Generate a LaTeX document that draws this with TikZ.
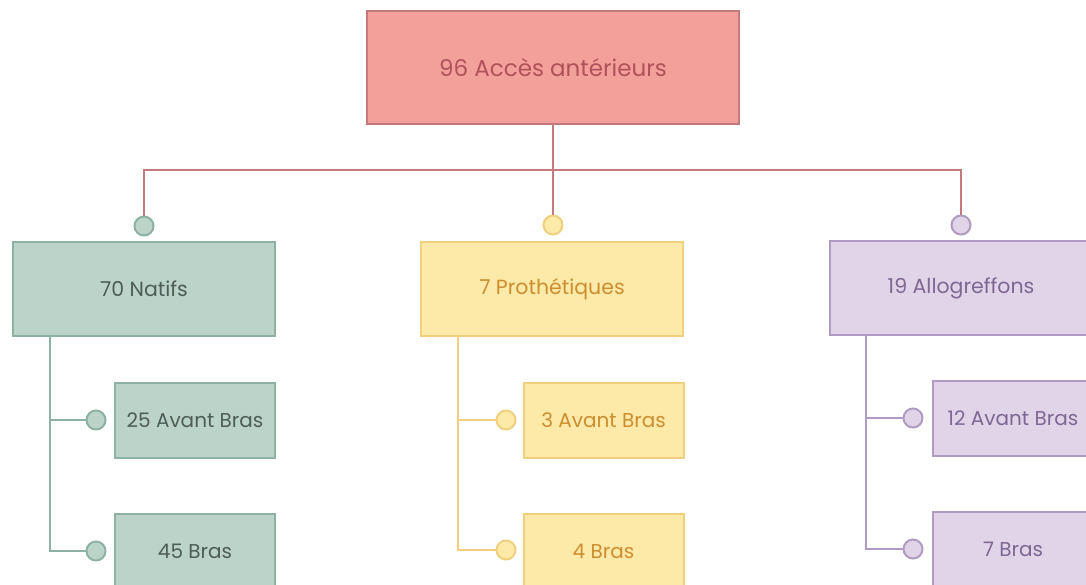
\documentclass[tikz,border=0pt]{standalone}
\usepackage{fontspec}
\setmainfont{Poppins}
\definecolor{rootfill}{HTML}{F4A09A}
\definecolor{rootdraw}{HTML}{C47A7C}
\definecolor{roottext}{HTML}{B0525A}
\definecolor{gfill}{HTML}{BCD3CA}
\definecolor{gdraw}{HTML}{8DB2A4}
\definecolor{gtext}{HTML}{4E5D57}
\definecolor{yfill}{HTML}{FDE9A8}
\definecolor{ydraw}{HTML}{F0D07F}
\definecolor{ytext}{HTML}{CC8E30}
\definecolor{pfill}{HTML}{E1D4E8}
\definecolor{pdraw}{HTML}{B09CC2}
\definecolor{ptext}{HTML}{7E6792}
\tikzset{
  box/.style={draw, line width=2pt, inner sep=0pt, anchor=center},
  rootbox/.style={box, fill=rootfill, draw=rootdraw, text=roottext, minimum width=372pt, minimum height=113pt, font=\fontsize{23}{26}\selectfont},
  midbox/.style={box, minimum width=262pt, minimum height=94pt, font=\fontsize{20.5}{24}\selectfont},
  leafbox/.style={box, minimum width=160pt, minimum height=75pt, font=\fontsize{20}{24}\selectfont},
  dot/.style={circle, draw, line width=2pt, inner sep=0pt, minimum size=19pt},
  link/.style={line width=2.5pt},
  gstyle/.style={fill=gfill, draw=gdraw, text=gtext},
  ystyle/.style={fill=yfill, draw=ydraw, text=ytext},
  pstyle/.style={fill=pfill, draw=pdraw, text=ptext},
}
\begin{document}
\begin{tikzpicture}[x=1pt,y=-1pt]
\clip (0,0) rectangle (1086,584);
\fill[white] (0,0) rectangle (1086,584);
% root
\node[rootbox] (root) at (553,67.5) {96 Accès antérieurs};
\coordinate (bus) at (553,170);
% level 2
\node[midbox, gstyle] (nat) at (144,289) {70 Natifs};
\node[midbox, ystyle] (pro) at (552,289) {7 Prothétiques};
\node[midbox, pstyle] (all) at (961,288) {19 Allogreffons};
% dots above level 2
\node[dot, gstyle] (dn) at (144,226) {};
\node[dot, ystyle] (dp) at (553,225) {};
\node[dot, pstyle] (da) at (961,225) {};
% root connectors
\draw[link, rootdraw] (dn.north) -- (dn.north |- bus) -- (da.north |- bus) -- (da.north);
\draw[link, rootdraw] (root.south) -- (dp.north);
% level 3 green
\node[leafbox, gstyle] (n1) at (195,420.5) {25 Avant Bras};
\node[leafbox, gstyle] (n2) at (195,551) {45 Bras};
\node[dot, gstyle] (dn1) at (96,420) {};
\node[dot, gstyle] (dn2) at (96,551) {};
\coordinate (nv) at (50,336);
\draw[link, gdraw] (nv) |- (dn2.west);
\draw[link, gdraw] (nv |- dn1) -- (dn1.west);
% level 3 yellow
\node[leafbox, ystyle] (p1) at (603.5,420.5) {3 Avant Bras};
\node[leafbox, ystyle] (p2) at (603.5,551) {4 Bras};
\node[dot, ystyle] (dp1) at (506,420) {};
\node[dot, ystyle] (dp2) at (506,550) {};
\coordinate (pv) at (458,336);
\draw[link, ydraw] (pv) |- (dp2.west);
\draw[link, ydraw] (pv |- dp1) -- (dp1.west);
% level 3 purple
\node[leafbox, pstyle] (a1) at (1013,418.5) {12 Avant Bras};
\node[leafbox, pstyle] (a2) at (1013,549) {7 Bras};
\node[dot, pstyle] (da1) at (913,418) {};
\node[dot, pstyle] (da2) at (913,549) {};
\coordinate (av) at (866,335);
\draw[link, pdraw] (av) |- (da2.west);
\draw[link, pdraw] (av |- da1) -- (da1.west);
\end{tikzpicture}
\end{document}
